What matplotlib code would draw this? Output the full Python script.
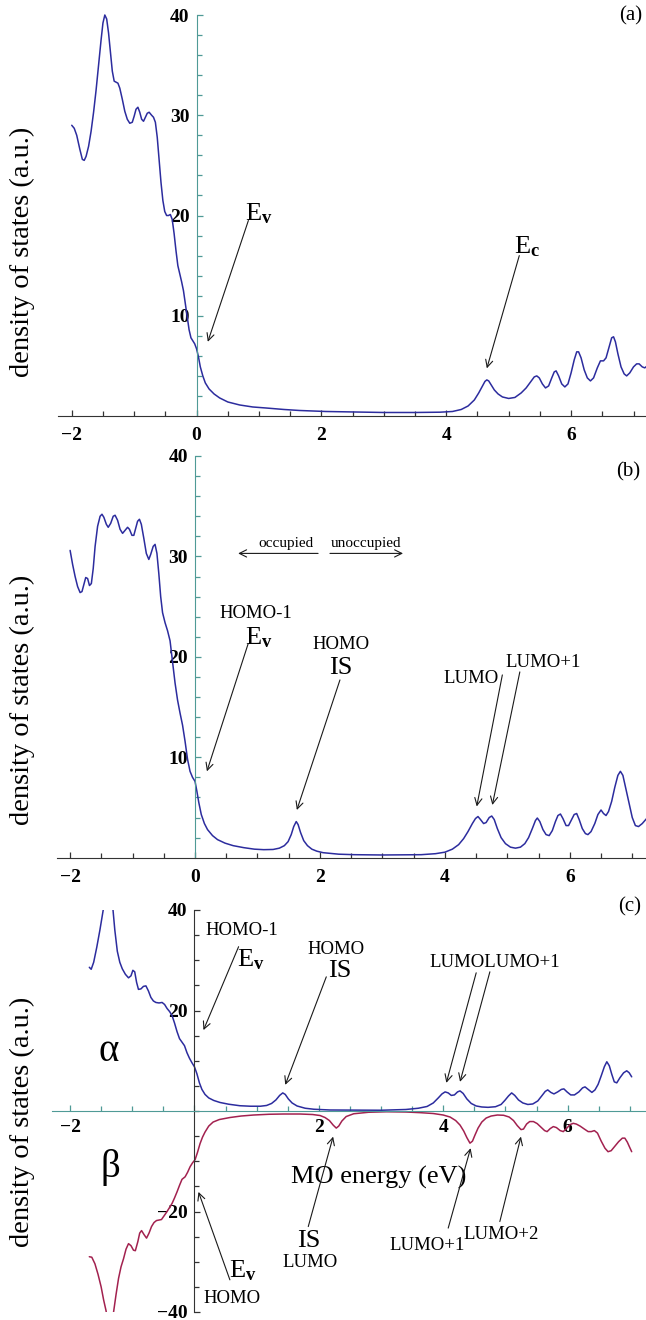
import matplotlib
matplotlib.use("Agg")
import matplotlib.pyplot as plt
from matplotlib.ticker import MultipleLocator, FixedLocator

plt.rcParams['font.family'] = ['Liberation Serif', 'DejaVu Serif']
plt.rcParams['mathtext.fontset'] = 'custom'
plt.rcParams['mathtext.rm'] = 'Liberation Serif'
plt.rcParams['mathtext.bf'] = 'Liberation Serif:bold'
plt.rcParams['mathtext.it'] = 'Liberation Serif:italic'

# (a) density of states
energy_a = [-2.00, -1.96, -1.92, -1.87, -1.83, -1.80, -1.77, -1.73, -1.69, -1.65, -1.61, -1.57,
            -1.53, -1.50, -1.47, -1.44, -1.41, -1.38, -1.35, -1.32, -1.29, -1.26, -1.23, -1.19,
            -1.15, -1.11, -1.07, -1.03, -1.00, -0.97, -0.94, -0.91, -0.88, -0.85, -0.82, -0.79,
            -0.76, -0.72, -0.69, -0.66, -0.63, -0.60, -0.57, -0.54, -0.51, -0.48, -0.45, -0.42,
            -0.39, -0.36, -0.33, -0.30, -0.27, -0.24, -0.21, -0.18, -0.15, -0.12, -0.09, -0.06,
            -0.03, 0.00, 0.03, 0.06, 0.10, 0.14, 0.20, 0.28, 0.37, 0.50, 0.69, 0.90,
            1.11, 1.40, 1.65, 2.07, 2.50, 3.00, 3.50, 3.90, 4.10, 4.24, 4.35, 4.45,
            4.52, 4.58, 4.62, 4.65, 4.68, 4.72, 4.77, 4.83, 4.90, 5.00, 5.10, 5.20,
            5.28, 5.35, 5.41, 5.45, 5.49, 5.54, 5.59, 5.64, 5.69, 5.73, 5.76, 5.80,
            5.85, 5.90, 5.95, 6.00, 6.05, 6.09, 6.12, 6.16, 6.21, 6.26, 6.31, 6.36,
            6.42, 6.47, 6.52, 6.56, 6.61, 6.65, 6.68, 6.71, 6.75, 6.80, 6.85, 6.89,
            6.94, 7.00, 7.05, 7.09, 7.14, 7.18, 7.22]
dos_a = [29.0, 28.7, 28.0, 26.6, 25.6, 25.5, 25.9, 26.9, 28.4, 30.3, 32.5, 35.0,
         37.5, 39.2, 40.0, 39.6, 38.2, 36.3, 34.4, 33.4, 33.3, 33.2, 32.7, 31.6,
         30.4, 29.6, 29.2, 29.3, 29.9, 30.6, 30.8, 30.3, 29.6, 29.4, 29.8, 30.2,
         30.3, 30.0, 29.8, 29.3, 27.8, 25.6, 23.3, 21.5, 20.4, 20.0, 20.0, 20.1,
         19.6, 18.2, 16.5, 15.0, 14.2, 13.4, 12.5, 11.2, 9.9, 8.6, 7.8, 7.5,
         7.2, 6.7, 5.9, 4.9, 4.0, 3.3, 2.7, 2.2, 1.8, 1.4, 1.1, 0.9,
         0.8, 0.65, 0.55, 0.45, 0.4, 0.35, 0.35, 0.38, 0.45, 0.65, 1.0, 1.6,
         2.3, 3.0, 3.45, 3.6, 3.5, 3.1, 2.6, 2.2, 1.9, 1.75, 1.85, 2.3,
         2.8, 3.4, 3.9, 4.0, 3.8, 3.2, 2.8, 3.0, 3.8, 4.4, 4.5, 4.0,
         3.2, 2.9, 3.2, 4.3, 5.6, 6.4, 6.4, 5.8, 4.6, 3.8, 3.5, 3.8,
         4.8, 5.5, 5.5, 5.8, 6.9, 7.8, 7.9, 7.4, 6.2, 4.9, 4.2, 4.0,
         4.3, 4.9, 5.2, 5.2, 4.9, 4.8, 5.0]

# (b) density of states
energy_b = [-2.00, -1.96, -1.92, -1.88, -1.84, -1.81, -1.78, -1.75, -1.72, -1.69, -1.66, -1.63,
            -1.60, -1.56, -1.52, -1.49, -1.46, -1.42, -1.39, -1.35, -1.31, -1.28, -1.24, -1.20,
            -1.16, -1.12, -1.08, -1.05, -1.01, -0.98, -0.95, -0.92, -0.89, -0.86, -0.82, -0.78,
            -0.74, -0.71, -0.67, -0.64, -0.61, -0.58, -0.55, -0.52, -0.48, -0.44, -0.40, -0.36,
            -0.32, -0.28, -0.24, -0.20, -0.16, -0.12, -0.08, -0.04, 0.00, 0.03, 0.06, 0.10,
            0.15, 0.20, 0.28, 0.36, 0.48, 0.61, 0.78, 0.95, 1.10, 1.25, 1.35, 1.43,
            1.49, 1.54, 1.58, 1.62, 1.65, 1.69, 1.74, 1.80, 1.87, 1.95, 2.05, 2.30,
            2.55, 3.00, 3.62, 3.85, 4.00, 4.12, 4.22, 4.30, 4.37, 4.44, 4.49, 4.53,
            4.57, 4.62, 4.66, 4.71, 4.75, 4.79, 4.84, 4.90, 4.97, 5.05, 5.13, 5.21,
            5.28, 5.34, 5.40, 5.45, 5.48, 5.52, 5.57, 5.62, 5.67, 5.72, 5.77, 5.81,
            5.85, 5.89, 5.94, 5.98, 6.03, 6.07, 6.11, 6.15, 6.20, 6.25, 6.29, 6.34,
            6.40, 6.45, 6.50, 6.54, 6.58, 6.62, 6.67, 6.72, 6.77, 6.81, 6.85, 6.90,
            6.95, 7.00, 7.05, 7.10, 7.16, 7.23]
dos_b = [30.6, 29.2, 28.0, 27.0, 26.4, 26.5, 27.2, 27.9, 27.8, 27.1, 27.3, 28.8,
         31.0, 33.0, 34.0, 34.2, 33.9, 33.2, 32.9, 33.3, 34.0, 34.1, 33.6, 32.7,
         32.3, 32.6, 32.9, 32.7, 32.1, 32.1, 32.8, 33.5, 33.7, 33.2, 31.8, 30.3,
         29.7, 30.2, 31.0, 31.2, 30.3, 28.3, 26.0, 24.4, 23.4, 22.6, 21.6, 19.5,
         17.4, 15.7, 14.4, 13.2, 11.6, 9.8, 8.6, 8.0, 7.6, 6.6, 5.5, 4.3,
         3.4, 2.8, 2.2, 1.8, 1.45, 1.2, 1.0, 0.85, 0.8, 0.82, 0.95, 1.2,
         1.6, 2.3, 3.1, 3.6, 3.3, 2.5, 1.7, 1.2, 0.85, 0.65, 0.5, 0.35,
         0.3, 0.27, 0.3, 0.4, 0.55, 0.85, 1.3, 1.9, 2.6, 3.4, 3.9, 4.1,
         3.8, 3.4, 3.5, 4.0, 4.15, 3.8, 2.9, 2.0, 1.4, 1.05, 0.95, 1.05,
         1.4, 2.0, 2.9, 3.7, 3.95, 3.6, 2.8, 2.3, 2.2, 2.7, 3.6, 4.2,
         4.35, 3.9, 3.2, 3.2, 3.8, 4.3, 4.4, 3.8, 2.9, 2.4, 2.3, 2.6,
         3.4, 4.3, 4.75, 4.4, 4.2, 4.6, 5.6, 7.0, 8.2, 8.6, 8.2, 6.8,
         5.4, 4.0, 3.2, 3.1, 3.4, 3.9]

# (c) spin alpha (up) and beta (down) density of states
energy_alpha = [-1.69, -1.66, -1.62, -1.57, -1.52, -1.48, -1.44, -1.40, -1.36, -1.32, -1.28, -1.24,
                -1.20, -1.16, -1.11, -1.06, -1.02, -0.99, -0.96, -0.93, -0.90, -0.86, -0.82, -0.78,
                -0.74, -0.70, -0.66, -0.62, -0.57, -0.52, -0.48, -0.44, -0.40, -0.36, -0.32, -0.28,
                -0.24, -0.20, -0.16, -0.12, -0.08, -0.04, 0.00, 0.04, 0.08, 0.12, 0.17, 0.23,
                0.31, 0.41, 0.55, 0.73, 0.90, 1.06, 1.16, 1.24, 1.31, 1.37, 1.42, 1.46,
                1.51, 1.57, 1.65, 1.78, 1.92, 2.18, 3.00, 3.40, 3.60, 3.74, 3.84, 3.92,
                3.98, 4.03, 4.08, 4.13, 4.18, 4.23, 4.27, 4.32, 4.38, 4.45, 4.53, 4.62,
                4.72, 4.84, 4.93, 4.99, 5.05, 5.10, 5.15, 5.21, 5.28, 5.36, 5.44, 5.52,
                5.59, 5.64, 5.68, 5.73, 5.78, 5.84, 5.90, 5.94, 5.99, 6.05, 6.11, 6.18,
                6.24, 6.28, 6.33, 6.39, 6.44, 6.49, 6.54, 6.59, 6.63, 6.67, 6.71, 6.75,
                6.79, 6.84, 6.90, 6.95, 6.99, 7.03]
dos_alpha = [28.6, 28.2, 29.6, 32.6, 36.0, 39.0, 42.0, 44.0, 44.0, 41.5, 36.0, 31.8,
             29.6, 28.3, 27.2, 26.5, 26.9, 28.0, 27.7, 25.6, 24.2, 24.3, 24.8, 24.9,
             23.9, 22.6, 21.9, 21.6, 21.5, 21.6, 21.2, 20.4, 19.8, 19.0, 17.5, 15.8,
             14.4, 13.7, 13.0, 11.6, 10.5, 9.6, 8.8, 7.4, 5.6, 4.3, 3.3, 2.6,
             2.1, 1.7, 1.35, 1.05, 0.95, 0.95, 1.1, 1.5, 2.2, 3.1, 3.6, 3.3,
             2.4, 1.6, 1.0, 0.55, 0.35, 0.2, 0.15, 0.3, 0.55, 0.9, 1.6, 2.6,
             3.4, 3.8, 3.6, 3.1, 3.2, 3.8, 4.0, 3.5, 2.4, 1.5, 1.0, 0.8,
             0.73, 0.85, 1.3, 2.1, 3.0, 3.6, 3.1, 2.2, 1.6, 1.3, 1.4, 2.0,
             3.1, 3.9, 4.2, 3.7, 3.4, 3.8, 4.3, 4.4, 3.8, 3.2, 3.2, 3.8,
             4.6, 4.8, 4.3, 3.7, 4.2, 5.3, 7.0, 8.8, 9.8, 9.0, 7.3, 5.8,
             5.6, 6.6, 7.6, 8.0, 7.6, 6.8]

energy_beta = [-1.69, -1.65, -1.60, -1.55, -1.50, -1.46, -1.42, -1.38, -1.34, -1.30, -1.26, -1.22,
               -1.18, -1.14, -1.10, -1.06, -1.02, -0.98, -0.95, -0.91, -0.88, -0.85, -0.81, -0.77,
               -0.73, -0.69, -0.65, -0.61, -0.57, -0.53, -0.49, -0.44, -0.40, -0.36, -0.32, -0.28,
               -0.24, -0.20, -0.15, -0.11, -0.07, -0.03, 0.01, 0.05, 0.09, 0.13, 0.17, 0.23,
               0.30, 0.40, 0.57, 0.75, 0.95, 1.20, 1.43, 1.70, 1.90, 2.02, 2.10, 2.17,
               2.23, 2.28, 2.32, 2.37, 2.44, 2.56, 2.80, 3.09, 3.40, 3.63, 3.84, 4.00,
               4.11, 4.20, 4.27, 4.33, 4.38, 4.43, 4.47, 4.51, 4.56, 4.62, 4.69, 4.77,
               4.87, 4.97, 5.06, 5.13, 5.19, 5.25, 5.29, 5.34, 5.39, 5.45, 5.51, 5.57,
               5.63, 5.67, 5.72, 5.77, 5.82, 5.88, 5.93, 5.98, 6.04, 6.09, 6.14, 6.20,
               6.27, 6.33, 6.38, 6.43, 6.48, 6.54, 6.60, 6.65, 6.70, 6.76, 6.82, 6.88,
               6.92, 6.96, 7.00, 7.03]
dos_beta = [-29.0, -29.1, -30.4, -32.5, -35.0, -37.6, -39.8, -44.0, -44.0, -40.0, -36.5, -33.3,
            -31.0, -29.4, -27.5, -26.4, -26.8, -27.7, -27.8, -26.0, -24.3, -23.8, -24.6, -25.3,
            -24.3, -23.0, -22.2, -21.8, -21.7, -21.6, -20.9, -20.0, -19.2, -18.4, -17.3, -16.1,
            -14.8, -13.6, -13.1, -12.2, -11.1, -10.3, -9.7, -8.2, -6.5, -5.2, -4.2, -3.0,
            -2.2, -1.7, -1.3, -1.0, -0.8, -0.65, -0.6, -0.6, -0.7, -0.9, -1.3, -1.9,
            -2.8, -3.4, -3.0, -2.0, -1.1, -0.55, -0.25, -0.15, -0.2, -0.33, -0.5, -0.8,
            -1.2, -1.9, -2.8, -4.0, -5.3, -6.4, -6.0, -4.8, -3.4, -2.2, -1.4, -1.0,
            -0.8, -0.85, -1.2, -1.9, -2.9, -3.7, -3.6, -2.6, -2.1, -2.1, -2.5, -3.2,
            -3.9, -4.1, -3.5, -3.1, -3.3, -3.9, -4.1, -3.5, -2.7, -2.45, -2.6, -3.0,
            -3.6, -4.1, -4.1, -3.9, -4.4, -6.0, -7.4, -8.1, -7.9, -7.0, -6.1, -5.4,
            -5.4, -6.2, -7.3, -8.1]

x_major = [-2, 0, 2, 4, 6]
x_labels_ab = ['\u22122', '0', '2', '4', '6']
x_labels_c = ['\u22122', '', '2', '4', '6']
y_major_ab = [10, 20, 30, 40]
y_major_c = [-40, -20, 20, 40]
y_labels_c = ['\u221240', '\u221220', '20', '40']

BLUE = '#2c2c9e'
RED = '#a2214f'
TEAL = '#4f9a96'
DARK = '#333333'
ARROW = '#1a1a1a'

W, H = 646, 1320
fig = plt.figure(figsize=(W / 100, H / 100), dpi=100)


def make_axes(left, right, top, bottom, xlim, ylim, xcol, ycol, xpad):
    ax = fig.add_axes([left / W, 1 - bottom / H, (right - left) / W, (bottom - top) / H])
    ax.set_xlim(*xlim)
    ax.set_ylim(*ylim)
    ax.patch.set_visible(False)
    for s in ['top', 'right']:
        ax.spines[s].set_visible(False)
    ax.spines['left'].set_position(('data', 0))
    ax.spines['bottom'].set_position(('data', 0))
    ax.spines['left'].set_color(ycol)
    ax.spines['bottom'].set_color(xcol)
    ax.xaxis.set_minor_locator(MultipleLocator(0.5))
    ax.tick_params(axis='x', which='both', direction='in', color=xcol, pad=xpad)
    ax.tick_params(axis='y', which='both', direction='in', color=ycol, pad=5)
    ax.tick_params(which='major', length=4, width=0.9, labelsize=14)
    ax.tick_params(which='minor', length=3.5, width=0.9)
    return ax


def fmt_ticks(ax):
    for lab in ax.get_xticklabels() + ax.get_yticklabels():
        lab.set_fontweight('bold')


def arrow(ax, tail, head):
    ax.annotate('', xy=head, xytext=tail,
                arrowprops=dict(arrowstyle='->', color=ARROW, lw=0.8,
                                shrinkA=0, shrinkB=0, mutation_scale=13))


ylabel = 'density of states (a.u.)'
line_kw = dict(lw=1.1, solid_joinstyle='round', solid_capstyle='round')

# ---------- (a)
ax1 = make_axes(58, 646, 15, 416, (-2.22, 7.2), (0, 40), DARK, TEAL, 8)
ax1.plot(energy_a, dos_a, color=BLUE, clip_on=False, **line_kw)
ax1.set_xticks(x_major)
ax1.set_xticklabels(x_labels_ab)
ax1.set_yticks(y_major_ab)
ax1.yaxis.set_minor_locator(FixedLocator(range(2, 40, 2)))
fmt_ticks(ax1)
ax1.text(0.99, 20.2, r'$\mathrm{E}_{\mathbf{v}}$', fontsize=19, ha='center', va='center')
arrow(ax1, (0.83, 19.5), (0.18, 7.4))
ax1.text(5.30, 16.9, r'$\mathrm{E}_{\mathbf{c}}$', fontsize=19, ha='center', va='center')
arrow(ax1, (5.17, 16.0), (4.65, 4.75))
fig.text(631 / W, 1 - 16 / H, '(a)', fontsize=15, ha='center', va='center')
fig.text(22 / W, 1 - 252 / H, ylabel, fontsize=20.5, rotation=90, ha='center', va='center')

# ---------- (b)
ax2 = make_axes(57, 646, 456, 857.7, (-2.21, 7.22), (0, 40), DARK, TEAL, 8)
ax2.plot(energy_b, dos_b, color=BLUE, clip_on=False, **line_kw)
ax2.set_xticks(x_major)
ax2.set_xticklabels(x_labels_ab)
ax2.set_yticks(y_major_ab)
ax2.yaxis.set_minor_locator(FixedLocator(range(2, 40, 2)))
fmt_ticks(ax2)
ax2.text(1.45, 31.3, 'occupied', fontsize=11, ha='center', va='center')
arrow(ax2, (1.97, 30.3), (0.69, 30.3))
ax2.text(2.74, 31.3, 'unoccupied', fontsize=11, ha='center', va='center')
arrow(ax2, (2.16, 30.3), (3.33, 30.3))
ax2.text(0.98, 24.3, 'HOMO-1', fontsize=13.5, ha='center', va='center')
ax2.text(1.02, 21.9, r'$\mathrm{E}_{\mathbf{v}}$', fontsize=19, ha='center', va='center')
arrow(ax2, (0.85, 21.3), (0.19, 8.6))
ax2.text(2.34, 21.2, 'HOMO', fontsize=13.5, ha='center', va='center')
ax2.text(2.34, 18.85, 'IS', fontsize=19, ha='center', va='center')
arrow(ax2, (2.32, 17.7), (1.63, 4.75))
ax2.text(4.42, 17.85, 'LUMO', fontsize=13.5, ha='center', va='center')
ax2.text(5.58, 19.4, 'LUMO+1', fontsize=13.5, ha='center', va='center')
arrow(ax2, (4.92, 18.2), (4.51, 5.1))
arrow(ax2, (5.20, 18.5), (4.76, 5.25))
fig.text(628 / W, 1 - 472 / H, '(b)', fontsize=15, ha='center', va='center')
fig.text(22 / W, 1 - 700 / H, ylabel, fontsize=20.5, rotation=90, ha='center', va='center')

# ---------- (c)
ax3 = make_axes(52, 646, 910, 1312, (-2.29, 7.26), (-40, 40), TEAL, DARK, 6)
ax3.plot(energy_alpha, dos_alpha, color=BLUE, **line_kw)
ax3.plot(energy_beta, dos_beta, color=RED, **line_kw)
ax3.set_xticks(x_major)
ax3.set_xticklabels(x_labels_c)
ax3.set_yticks(y_major_c)
ax3.set_yticklabels(y_labels_c)
ax3.yaxis.set_minor_locator(MultipleLocator(5))
fmt_ticks(ax3)
ax3.text(0.76, 36.0, 'HOMO-1', fontsize=13.5, ha='center', va='center')
ax3.text(0.90, 30.2, r'$\mathrm{E}_{\mathbf{v}}$', fontsize=19, ha='center', va='center')
arrow(ax3, (0.71, 32.7), (0.145, 16.1))
ax3.text(2.28, 32.2, 'HOMO', fontsize=13.5, ha='center', va='center')
ax3.text(2.33, 27.8, 'IS', fontsize=19, ha='center', va='center')
arrow(ax3, (2.12, 26.7), (1.46, 5.2))
ax3.text(4.83, 29.65, 'LUMOLUMO+1', fontsize=13.5, ha='center', va='center')
arrow(ax3, (4.53, 27.5), (4.05, 5.6))
arrow(ax3, (4.75, 27.7), (4.27, 5.8))
ax3.text(-1.38, 11.8, '\u03b1', fontsize=28, ha='center', va='center')
ax3.text(-1.35, -11.2, '\u03b2', fontsize=28, ha='center', va='center')
ax3.text(2.97, -13.3, 'MO energy (eV)', fontsize=19, ha='center', va='center')
ax3.text(1.84, -25.9, 'IS', fontsize=19, ha='center', va='center')
ax3.text(1.86, -30.1, 'LUMO', fontsize=13.5, ha='center', va='center')
arrow(ax3, (1.83, -23.0), (2.23, -5.1))
ax3.text(0.78, -31.8, r'$\mathrm{E}_{\mathbf{v}}$', fontsize=19, ha='center', va='center')
ax3.text(0.61, -37.3, 'HOMO', fontsize=13.5, ha='center', va='center')
arrow(ax3, (0.57, -33.6), (0.065, -16.1))
ax3.text(3.74, -26.8, 'LUMO+1', fontsize=13.5, ha='center', va='center')
ax3.text(4.93, -24.6, 'LUMO+2', fontsize=13.5, ha='center', va='center')
arrow(ax3, (4.08, -23.3), (4.44, -7.4))
arrow(ax3, (4.91, -22.0), (5.25, -5.1))
fig.text(630 / W, 1 - 907 / H, '(c)', fontsize=15, ha='center', va='center')
fig.text(22 / W, 1 - 1122 / H, ylabel, fontsize=20.5, rotation=90, ha='center', va='center')

fig.savefig('out.png', dpi=100)
